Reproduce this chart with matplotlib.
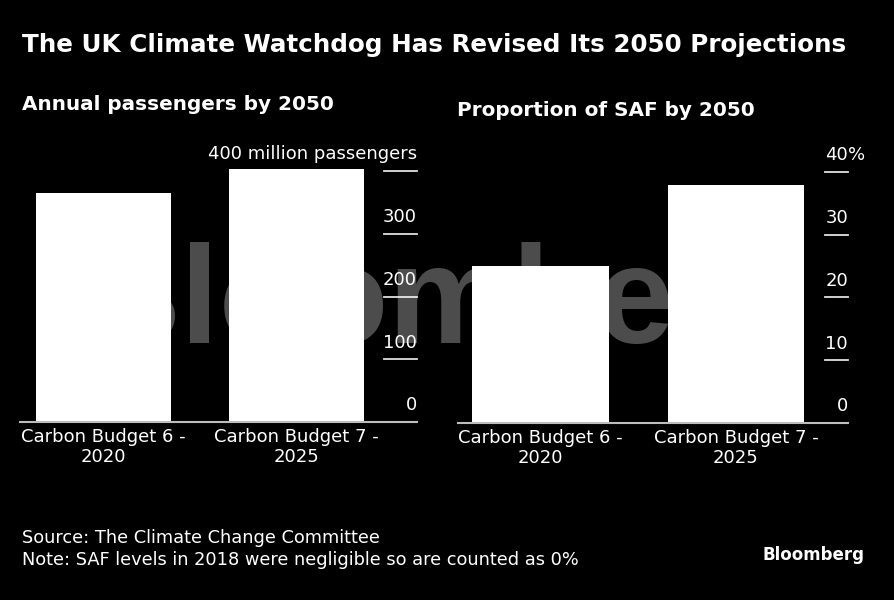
import matplotlib
matplotlib.use('Agg')
import matplotlib.pyplot as plt

# data
categories = ['Carbon Budget 6 -\n2020', 'Carbon Budget 7 -\n2025']
passengers = [365, 403]          # million passengers by 2050
saf_share = [25, 38]             # % SAF by 2050
pass_ticks = [0, 100, 200, 300, 400]
pass_labels = ['0', '100', '200', '300', '400 million passengers']
saf_ticks = [0, 10, 20, 30, 40]
saf_labels = ['0', '10', '20', '30', '40']

W, H = 894, 600
plt.rcParams['font.family'] = 'DejaVu Sans'
fig = plt.figure(figsize=(W / 100, H / 100), dpi=100, facecolor='black')

def px_axes(x0, x1, ybase, ytop):
    return fig.add_axes([x0 / W, 1 - ybase / H, (x1 - x0) / W, (ybase - ytop) / H])

def draw_panel(ax, values, ticks, labels, ymax, xlim, tick_from, pct=False):
    ax.set_facecolor('black')
    ax.bar(range(len(values)), values, width=0.7, color='white', zorder=2, clip_on=False)
    ax.set_xlim(xlim)
    ax.set_ylim(0, ymax)
    for s in ax.spines.values():
        s.set_visible(False)
    ax.set_xticks([])
    ax.set_yticks([])
    ax.axhline(0, color='#bdbdbd', lw=1.5, zorder=3, clip_on=False)
    for t, lab in zip(ticks, labels):
        if t > 0:
            ax.axhline(t, xmin=tick_from, xmax=1, color='#e0e0e0', lw=1.3, clip_on=False)
        ax.text(1.0, t + ymax * 0.03, lab, transform=ax.get_yaxis_transform(),
                ha='right', va='bottom', color='white', fontsize=13)
    if pct:
        ax.text(1.0, ticks[-1] + ymax * 0.03, '%', transform=ax.get_yaxis_transform(),
                ha='left', va='bottom', color='white', fontsize=13)
    for i, c in enumerate(categories):
        ax.text(i, -ymax * 0.025, c, ha='center', va='top', color='white',
                fontsize=13, linespacing=1.1)

# left panel: passengers
ax1 = px_axes(20, 417, 422, 422 - 410 * 0.6275)
draw_panel(ax1, passengers, pass_ticks, pass_labels, 410, (-0.4326, 1.624),
           (384 - 20) / 397)

# right panel: SAF share
ax2 = px_axes(458, 848, 423, 423 - 41 * 6.275)
draw_panel(ax2, saf_share, saf_ticks, saf_labels, 41, (-0.422, 1.573),
           (825 - 458) / 390, pct=True)

# titles
fig.text(22 / W, 1 - 45 / H, 'The UK Climate Watchdog Has Revised Its 2050 Projections',
         color='white', fontsize=17.7, fontweight='bold', va='center', ha='left')
fig.text(22 / W, 1 - 104 / H, 'Annual passengers by 2050', color='white',
         fontsize=14.4, fontweight='bold', va='center', ha='left')
fig.text(457 / W, 1 - 110 / H, 'Proportion of SAF by 2050', color='white',
         fontsize=14.4, fontweight='bold', va='center', ha='left')

# footer
fig.text(22 / W, 1 - 538 / H, 'Source: The Climate Change Committee', color='white',
         fontsize=12.8, va='center', ha='left')
fig.text(22 / W, 1 - 560 / H, 'Note: SAF levels in 2018 were negligible so are counted as 0%',
         color='white', fontsize=12.8, va='center', ha='left')
fig.text(865 / W, 1 - 555 / H, 'Bloomberg', color='white', fontsize=12,
         fontweight='bold', va='center', ha='right')

# watermark
fig.text(447 / W, 1 - 343 / H, 'Bloomberg', color='white', alpha=0.3,
         fontsize=100, fontweight='bold', family='Liberation Sans',
         ha='center', va='baseline', zorder=10)

fig.savefig('out.png', dpi=100, facecolor='black')
